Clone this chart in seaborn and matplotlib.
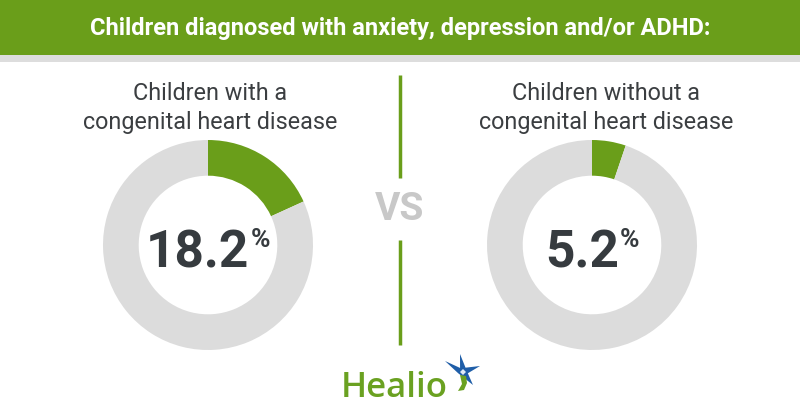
import matplotlib
matplotlib.use("Agg")
import matplotlib.pyplot as plt
import seaborn as sns
from matplotlib.patches import Rectangle, Polygon
import numpy as np

title = "Children diagnosed with anxiety, depression and/or ADHD:"
groups = ["Children with a\ncongenital heart disease",
          "Children without a\ncongenital heart disease"]
pct = [18.2, 5.2]
brand = "Healio"

sns.set_theme(style="white")
plt.rcParams['font.family'] = ['Roboto', 'DejaVu Sans']

GREEN = "#6a9e1a"
RING = "#dcdcdc"
DARK = "#363b3f"
TXT = "#3b3e41"

W, H = 800, 420
fig = plt.figure(figsize=(8, 4.2), dpi=100)
fig.patch.set_facecolor("white")

centers = [(208, 245), (592, 245)]
R = 105
for (cx, cy), v in zip(centers, pct):
    ax = fig.add_axes([(cx - R) / W, (H - cy - R) / H, 2 * R / W, 2 * R / H])
    ax.pie([v, 100 - v], colors=[GREEN, RING], startangle=90, counterclock=False,
           radius=1, wedgeprops=dict(width=0.34, linewidth=0))
    ax.set_xlim(-1, 1); ax.set_ylim(-1, 1)
    ax.set_aspect("equal")
    ax.axis("off")

ov = fig.add_axes([0, 0, 1, 1], zorder=5)
ov.patch.set_alpha(0)
ov.set_xlim(0, W); ov.set_ylim(H, 0)
ov.axis("off")

# header
ov.add_patch(Rectangle((0, 0), W, 55, color=GREEN, lw=0))
ov.add_patch(Rectangle((0, 55), W, 7, color="#dddddd", lw=0))
ov.text(400, 28, title, ha="center", va="center", color="white",
        fontsize=17, fontweight="bold")

# subtitles
sub_x = [210, 606]
for x, g in zip(sub_x, groups):
    ov.text(x, 108, g, ha="center", va="center", color=TXT, fontsize=16.8,
            linespacing=1.3)

# percentages
fig.canvas.draw()
r = fig.canvas.get_renderer()
for (cx, cy), v in zip(centers, pct):
    t1 = ov.text(0, 267, f"{v:.1f}", ha="left", va="baseline", color=DARK,
                 fontsize=37, fontweight="bold")
    t2 = ov.text(0, 247, "%", ha="left", va="baseline", color=DARK,
                 fontsize=19, fontweight="bold")
    w1 = t1.get_window_extent(r).width
    w2 = t2.get_window_extent(r).width
    total = w1 + w2 + 1
    x0 = cx - total / 2
    t1.set_x(x0)
    t2.set_x(x0 + w1 + 1)

# VS separator
ov.plot([400, 400], [75, 178], color=GREEN, lw=2.5, solid_capstyle="butt")
ov.plot([400, 400], [240, 345], color=GREEN, lw=2.5, solid_capstyle="butt")
ov.text(400, 210, "VS", ha="center", va="center", color="#c8c8c8",
        fontsize=28, fontweight="bold")

# logo
ov.text(341, 397, brand, ha="left", va="baseline", color="#6aa121",
        fontsize=25, fontweight="semibold", family=["Open Sans", "DejaVu Sans"])
scx, scy = 463, 372
tips = [(445, 361), (460, 354), (480, 366), (473, 385)]
pts = []
for i, (tx, ty) in enumerate(tips):
    pts.append((tx, ty))
    nx, ny = tips[(i + 1) % 4]
    mx, my = (tx + nx) / 2, (ty + ny) / 2
    d = np.hypot(mx - scx, my - scy)
    pts.append((scx + 5 * (mx - scx) / d, scy + 5 * (my - scy) / d))
ov.add_patch(Polygon(pts, closed=True, color="#1f5ea8", lw=0))
ov.add_patch(Polygon([(scx - 3, scy + 3), (scx + 3, scy + 4), (467, 383), (464, 390),
                      (458, 391), (462, 384)],
                     closed=True, color="#6aa121", lw=0))
ov.add_patch(Polygon([(scx - 3, scy), (scx, scy - 3), (scx + 3, scy), (scx, scy + 3)],
                     closed=True, color="#dfeaf6", lw=0))

fig.savefig("out.png", dpi=100, facecolor="white")
